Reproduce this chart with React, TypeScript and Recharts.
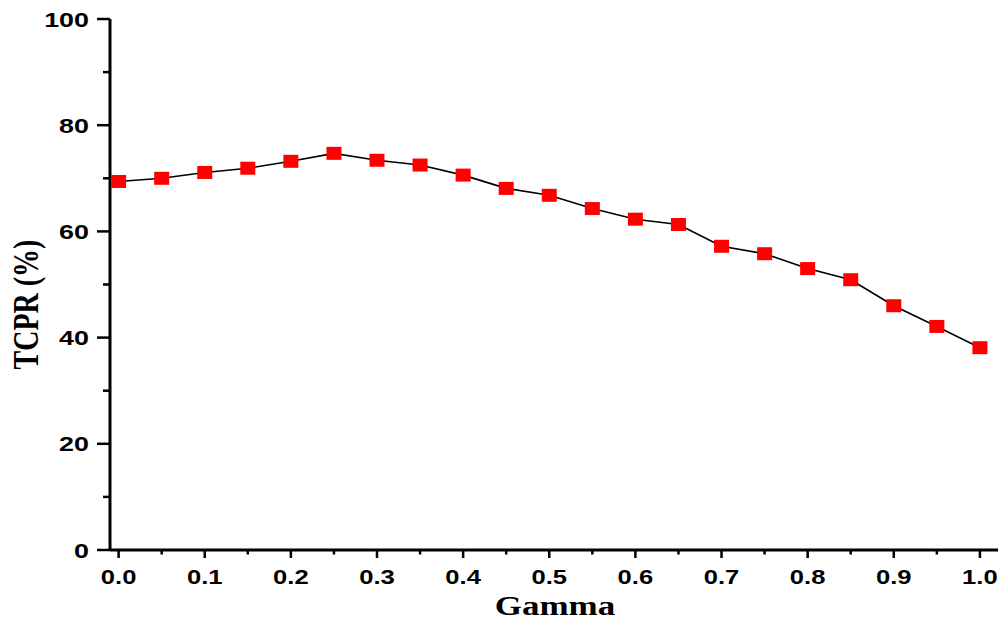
import { LineChart, Line, XAxis, YAxis } from "recharts";

const gamma = [
  0, 0.05, 0.1, 0.15, 0.2, 0.25, 0.3, 0.35, 0.4, 0.45, 0.5, 0.55, 0.6, 0.65,
  0.7, 0.75, 0.8, 0.85, 0.9, 0.95, 1.0,
];
const tcpr = [
  69.4, 70.0, 71.1, 71.9, 73.2, 74.7, 73.4, 72.5, 70.6, 68.1, 66.8, 64.3,
  62.3, 61.3, 57.2, 55.8, 53.0, 50.9, 46.0, 42.1, 38.1,
];
const xTicks = [
  0, 0.05, 0.1, 0.15, 0.2, 0.25, 0.3, 0.35, 0.4, 0.45, 0.5, 0.55, 0.6, 0.65,
  0.7, 0.75, 0.8, 0.85, 0.9, 0.95, 1.0,
];
const xLabels = ["0.0", "0.1", "0.2", "0.3", "0.4", "0.5", "0.6", "0.7", "0.8", "0.9", "1.0"];
const yTicks = [0, 10, 20, 30, 40, 50, 60, 70, 80, 90, 100];

const data = gamma.map((g, i) => ({ gamma: g, tcpr: tcpr[i] }));

const SANS = "'Liberation Sans', Arial, sans-serif";
const SERIF = "'Liberation Serif', 'Times New Roman', serif";
const STRETCH = 1.28;

function XTick(props: any) {
  const { x, y, payload } = props;
  const v = Number(payload.value);
  const idx = Math.round(v * 10);
  const major = Math.abs(v * 10 - idx) < 1e-6;
  const axisY = y - 8;
  return (
    <g>
      <line x1={x} x2={x} y1={axisY} y2={axisY + (major ? 8 : 4.5)} stroke="#000" strokeWidth={2.5} />
      {major && (
        <text
          transform={`translate(${x},${axisY + 34}) scale(${STRETCH},1)`}
          textAnchor="middle"
          fontFamily={SANS}
          fontWeight="bold"
          fontSize={20}
          fill="#000"
        >
          {xLabels[idx]}
        </text>
      )}
    </g>
  );
}

function YTick(props: any) {
  const { x, y, payload } = props;
  const v = Number(payload.value);
  const major = v % 20 === 0;
  const axisX = x + 13;
  return (
    <g>
      <line x1={axisX} x2={axisX - (major ? 13 : 7)} y1={y} y2={y} stroke="#000" strokeWidth={2.5} />
      {major && (
        <text
          transform={`translate(${axisX - 21},${y + 7.5}) scale(${STRETCH},1)`}
          textAnchor="end"
          fontFamily={SANS}
          fontWeight="bold"
          fontSize={21}
          fill="#000"
        >
          {v}
        </text>
      )}
    </g>
  );
}

function SquareDot(props: any) {
  const { cx, cy, index } = props;
  return <rect key={`d${index}`} x={cx - 7.5} y={cy - 6.5} width={15} height={13} fill="#ff0000" />;
}

export default function App() {
  return (
    <div style={{ position: "absolute", left: 0, top: 0, width: 1003, height: 622, background: "#fff" }}>
      <LineChart width={1003} height={622} data={data} margin={{ top: 19, right: 5, bottom: 0, left: 0 }}>
        <XAxis
          dataKey="gamma"
          type="number"
          domain={[-0.01, 1.021]}
          ticks={xTicks}
          interval={0}
          height={72}
          tickSize={8}
          tickMargin={0}
          tickLine={false}
          tick={<XTick />}
          axisLine={{ stroke: "#000", strokeWidth: 3 }}
          label={{
            content: (p: any) => {
              const vb = p.viewBox;
              return (
                <text
                  transform={`translate(${vb.x + vb.width / 2 + 1},${vb.y + 65}) scale(1.25,1)`}
                  textAnchor="middle"
                  fontFamily={SERIF}
                  fontWeight="bold"
                  fontSize={28}
                  fill="#000"
                >
                  Gamma
                </text>
              );
            },
          }}
        />
        <YAxis
          type="number"
          domain={[0, 100]}
          ticks={yTicks}
          interval={0}
          width={110}
          tickSize={13}
          tickMargin={0}
          tickLine={false}
          tick={<YTick />}
          axisLine={{ stroke: "#000", strokeWidth: 3 }}
          label={{
            content: (p: any) => {
              const vb = p.viewBox;
              return (
                <text
                  transform={`translate(38,${vb.y + vb.height / 2 + 20}) scale(1.28,1) rotate(-90)`}
                  textAnchor="middle"
                  fontFamily={SERIF}
                  fontWeight="bold"
                  fontSize={28}
                  fill="#000"
                >
                  TCPR (%)
                </text>
              );
            },
          }}
        />
        <Line
          dataKey="tcpr"
          type="linear"
          stroke="#000"
          strokeWidth={1.6}
          dot={<SquareDot />}
          activeDot={false}
          isAnimationActive={false}
        />
      </LineChart>
    </div>
  );
}
